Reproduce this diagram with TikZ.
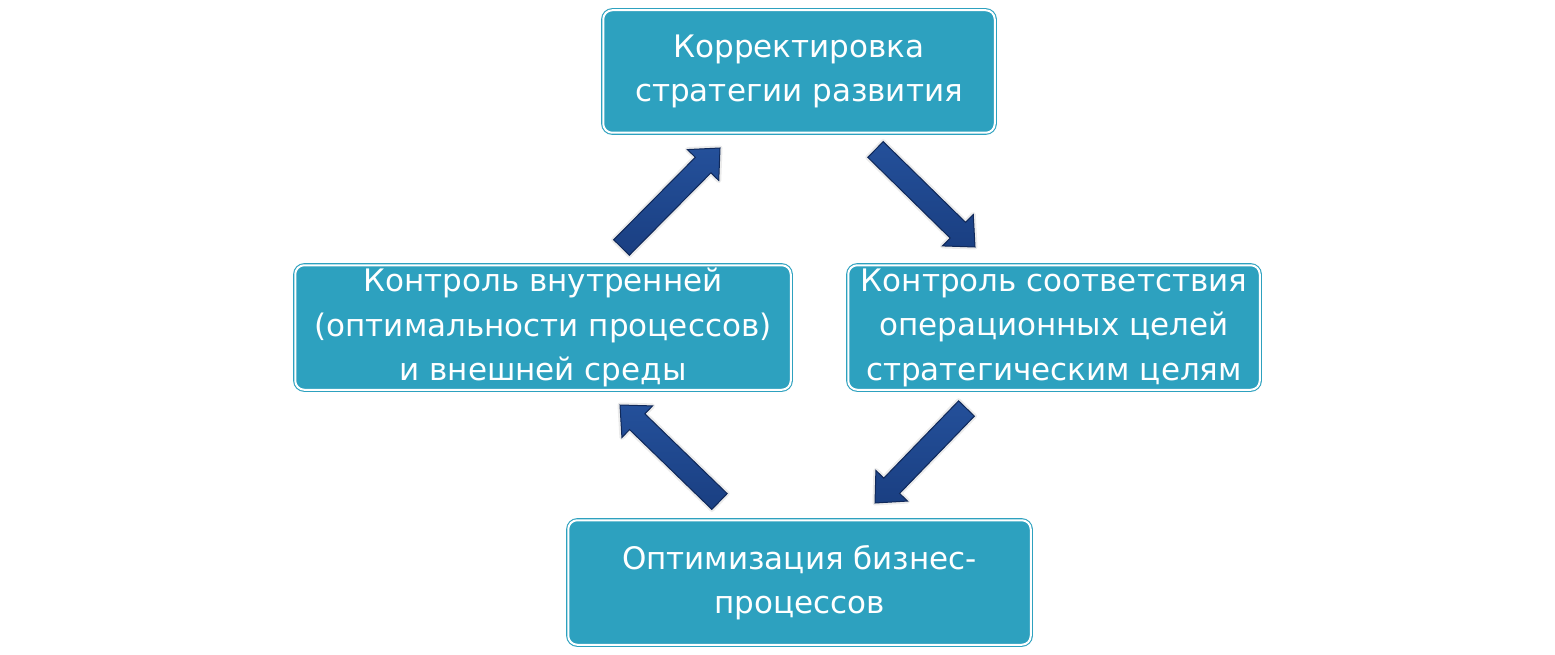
\documentclass[tikz,border=0pt]{standalone}
\usepackage{fontspec}
\setmainfont{DejaVu Sans}
\usetikzlibrary{calc}
\definecolor{boxc}{HTML}{2DA1BF}
\definecolor{arrtop}{HTML}{24509A}
\definecolor{arrbot}{HTML}{1A3F82}
\definecolor{arrline}{HTML}{10295A}
\tikzset{
  box/.style={draw=boxc, double=white, double distance=2pt, line width=1.1pt,
    fill=boxc, rounded corners=9pt, inner sep=0pt, align=center,
    text=white, font=\fontsize{31}{44.5}\selectfont},
  arrbody/.style={top color=arrtop, bottom color=arrbot, draw=arrline, line width=1pt, line join=miter},
  arrshadow/.style={fill=black, fill opacity=0.2, draw=black, draw opacity=0.08, line width=5pt, line join=round}
}
\newcommand\blockarr[2]{%
  \coordinate (hb) at ($(#2)!24pt!(#1)$);
  \path[arrshadow, yshift=-6pt]
    ($(#1)!11pt!90:(#2)$) -- ($(hb)!11pt!-90:(#1)$) -- ($(hb)!22pt!-90:(#1)$) -- (#2)
    -- ($(hb)!22pt!90:(#1)$) -- ($(hb)!11pt!90:(#1)$) -- ($(#1)!11pt!-90:(#2)$) -- cycle;
  \path[arrbody]
    ($(#1)!11pt!90:(#2)$) -- ($(hb)!11pt!-90:(#1)$) -- ($(hb)!22pt!-90:(#1)$) -- (#2)
    -- ($(hb)!22pt!90:(#1)$) -- ($(hb)!11pt!90:(#1)$) -- ($(#1)!11pt!-90:(#2)$) -- cycle;
}
\begin{document}
\begin{tikzpicture}[x=1pt, y=-1pt]
\useasboundingbox[fill=white] (0,0) rectangle (1555,655);
\node[box, minimum width=391.5pt, minimum height=122.5pt] (top) at (799,71.5)
  {Корректировка\\стратегии развития};
\node[box, minimum width=495.5pt, minimum height=124.5pt] (left) at (543,327.5)
  {Контроль внутренней\\(оптимальности процессов)\\и внешней среды};
\node[box, minimum width=411.5pt, minimum height=124.5pt] (right) at (1054,327.5)
  {Контроль соответствия\\операционных целей\\стратегическим целям};
\node[box, minimum width=462.5pt, minimum height=124.5pt] (bottom) at (799.5,582.5)
  {Оптимизация бизнес-\\процессов};
\coordinate (a1t) at (621.5,247.5); \coordinate (a1p) at (720,148);
\coordinate (a2t) at (875.5,149.5); \coordinate (a2p) at (975,247);
\coordinate (a3t) at (966.5,408.5); \coordinate (a3p) at (875,503);
\coordinate (a4t) at (719.5,501.5); \coordinate (a4p) at (620,405);
\blockarr{a1t}{a1p}
\blockarr{a2t}{a2p}
\blockarr{a3t}{a3p}
\blockarr{a4t}{a4p}
\end{tikzpicture}
\end{document}
